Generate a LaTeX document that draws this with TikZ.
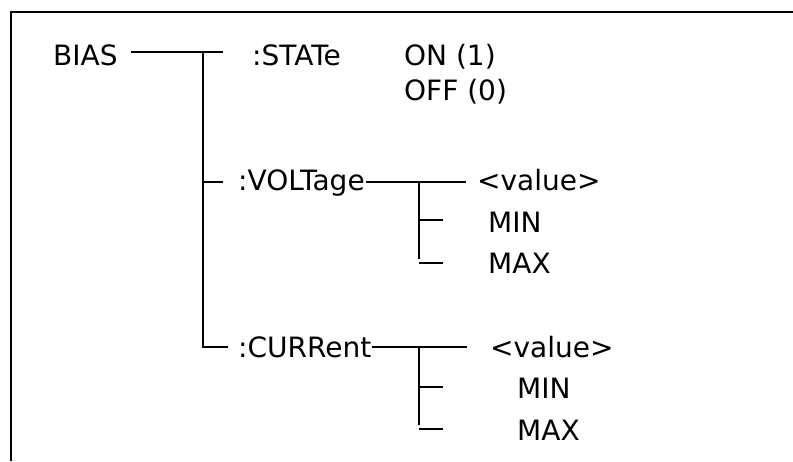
\documentclass[tikz,border=0pt]{standalone}
\usepackage{fontspec}
\setmainfont{DejaVu Sans}
\begin{document}
\begin{tikzpicture}[x=1pt,y=-1pt,
  lbl/.style={anchor=base west,inner sep=0pt,font=\fontsize{28}{33}\selectfont},
  ln/.style={line width=2pt}]
\useasboundingbox (0,0) rectangle (793,461);
% frame
\draw[line width=2pt] (11,461) -- (11,12) -- (793,12);
% labels
\node[lbl] (bias)  at (53,65)  {BIAS};
\node[lbl] (state) at (252,65) {:STATe};
\node[lbl] (on)    at (404,65) {ON (1)};
\node[lbl] (off)   at (404,100) {OFF (0)};
\node[lbl] (volt)  at (238,190) {:VOLTage};
\node[lbl] (vval)  at (477,190) {<value>};
\node[lbl] (vmin)  at (488,232) {MIN};
\node[lbl] (vmax)  at (488,273) {MAX};
\node[lbl] (curr)  at (238,357) {:CURRent};
\node[lbl] (cval)  at (490,357) {<value>};
\node[lbl] (cmin)  at (517,398) {MIN};
\node[lbl] (cmax)  at (517,440) {MAX};
% junction coordinates
\coordinate (b0) at (131,52);
\coordinate (j0) at (203,52);
\coordinate (s0) at (223,52);
\coordinate (jv) at (203,182);
\coordinate (v0) at (223,182);
\coordinate (jc) at (203,347);
\coordinate (c0) at (228,347);
\coordinate (vl) at (366,182);
\coordinate (vr) at (466,182);
\coordinate (vb) at (419,182);
\coordinate (vm) at (419,220);
\coordinate (vx) at (419,263);
\coordinate (vmE) at (443,220);
\coordinate (vxE) at (443,263);
\coordinate (cl) at (372,347);
\coordinate (cr) at (467,347);
\coordinate (cb) at (419,347);
\coordinate (cm) at (419,387);
\coordinate (cx) at (419,429);
\coordinate (cmE) at (443,387);
\coordinate (cxE) at (443,429);
% main tree
\draw[ln] (b0) -- (s0);
\draw[ln] (j0) -- (jc) -- (c0);
\draw[ln] (jv) -- (v0);
% VOLTage subtree
\draw[ln] (vl) -- (vr);
\draw[ln] (vb) -- ([yshift=4]vx);
\draw[ln] (vm) -- (vmE);
\draw[ln] (vx) -- (vxE);
% CURRent subtree
\draw[ln] (cl) -- (cr);
\draw[ln] (cb) -- ([yshift=4]cx);
\draw[ln] (cm) -- (cmE);
\draw[ln] (cx) -- (cxE);
\end{tikzpicture}
\end{document}
